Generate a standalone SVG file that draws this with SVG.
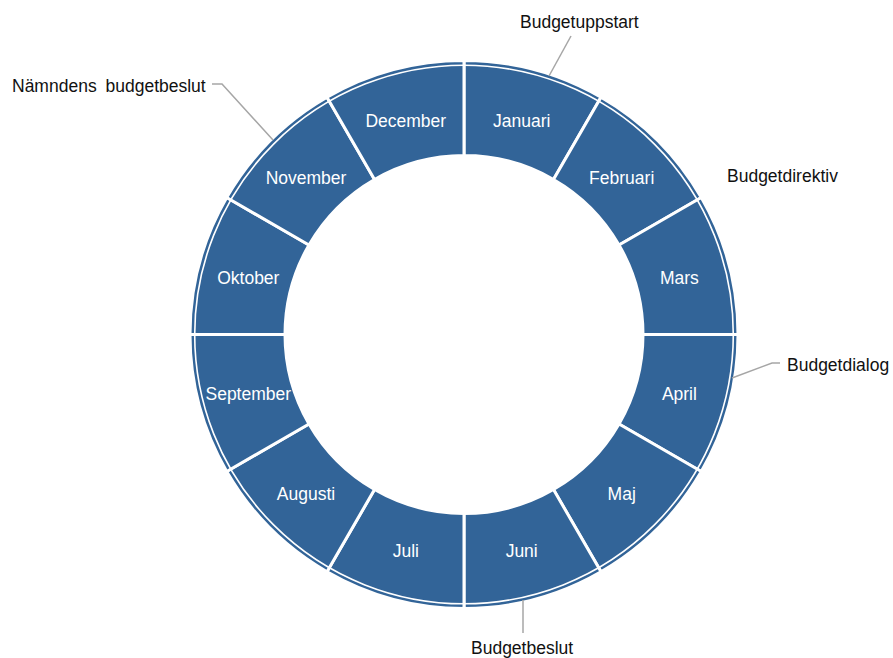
<svg xmlns="http://www.w3.org/2000/svg" width="893" height="658" viewBox="0 0 893 658">
<style>
.seg{fill:#326498;stroke:#fff;stroke-width:3;stroke-linejoin:miter}
.ml{font-family:"Liberation Sans",Arial,sans-serif;font-size:17.5px;fill:#fff;text-anchor:middle;dominant-baseline:central}
.ol{font-family:"Liberation Sans",Arial,sans-serif;font-size:17.5px;fill:#111}
.lead{fill:none;stroke:#a6a6a6;stroke-width:1.5}
</style>
<rect width="893" height="658" fill="#fff"/>
<g id="januari"><path class="seg" d="M464,60.5 A274,274 0 0 1 601,97.2 L553.5,179.48 A179,179 0 0 0 464,155.5 Z"/><text class="ml" x="521.7" y="120.5">Januari</text></g>
<g id="februari"><path class="seg" d="M601,97.2 A274,274 0 0 1 701.3,197.5 L619.02,245 A179,179 0 0 0 553.5,179.48 Z"/><text class="ml" x="621.7" y="178.3">Februari</text></g>
<g id="mars"><path class="seg" d="M701.3,197.5 A274,274 0 0 1 738,334.5 L643,334.5 A179,179 0 0 0 619.02,245 Z"/><text class="ml" x="679.4" y="278.3">Mars</text></g>
<g id="april"><path class="seg" d="M738,334.5 A274,274 0 0 1 701.3,471.5 L619.02,424 A179,179 0 0 0 643,334.5 Z"/><text class="ml" x="679.4" y="393.5">April</text></g>
<g id="maj"><path class="seg" d="M701.3,471.5 A274,274 0 0 1 601,571.8 L553.5,489.52 A179,179 0 0 0 619.02,424 Z"/><text class="ml" x="621.7" y="493.5">Maj</text></g>
<g id="juni"><path class="seg" d="M601,571.8 A274,274 0 0 1 464,608.5 L464,513.5 A179,179 0 0 0 553.5,489.52 Z"/><text class="ml" x="521.7" y="551">Juni</text></g>
<g id="juli"><path class="seg" d="M464,608.5 A274,274 0 0 1 327,571.8 L374.5,489.52 A179,179 0 0 0 464,513.5 Z"/><text class="ml" x="405.8" y="551">Juli</text></g>
<g id="augusti"><path class="seg" d="M327,571.8 A274,274 0 0 1 226.7,471.5 L308.98,424 A179,179 0 0 0 374.5,489.52 Z"/><text class="ml" x="306" y="493.5">Augusti</text></g>
<g id="september"><path class="seg" d="M226.7,471.5 A274,274 0 0 1 190,334.5 L285,334.5 A179,179 0 0 0 308.98,424 Z"/><text class="ml" x="248.3" y="393.5">September</text></g>
<g id="oktober"><path class="seg" d="M190,334.5 A274,274 0 0 1 226.7,197.5 L308.98,245 A179,179 0 0 0 285,334.5 Z"/><text class="ml" x="248.3" y="278.3">Oktober</text></g>
<g id="november"><path class="seg" d="M226.7,197.5 A274,274 0 0 1 327,97.2 L374.5,179.48 A179,179 0 0 0 308.98,245 Z"/><text class="ml" x="306" y="178.3">November</text></g>
<g id="december"><path class="seg" d="M327,97.2 A274,274 0 0 1 464,60.5 L464,155.5 A179,179 0 0 0 374.5,179.48 Z"/><text class="ml" x="405.8" y="120.5">December</text></g>
<g id="ring-divider"><circle cx="464" cy="334.5" r="269.3" fill="none" stroke="#fff" stroke-width="1.6"/></g>
<g id="connectors">
<path class="lead" d="M549,76 L571,36"/>
<path class="lead" d="M732,378 L772,363 L780,363"/>
<path class="lead" d="M523,600 L523,633"/>
<path class="lead" d="M212,84 L222,84 L273,140"/>
</g>
<g id="budgetuppstart"><text class="ol" x="520" y="28">Budgetuppstart</text></g>
<g id="budgetdirektiv"><text class="ol" x="727" y="182">Budgetdirektiv</text></g>
<g id="budgetdialog"><text class="ol" x="787" y="371">Budgetdialog</text></g>
<g id="budgetbeslut"><text class="ol" x="471" y="654">Budgetbeslut</text></g>
<g id="namndens-budgetbeslut"><text class="ol" x="12" y="92" word-spacing="4">Nämndens budgetbeslut</text></g>
</svg>
